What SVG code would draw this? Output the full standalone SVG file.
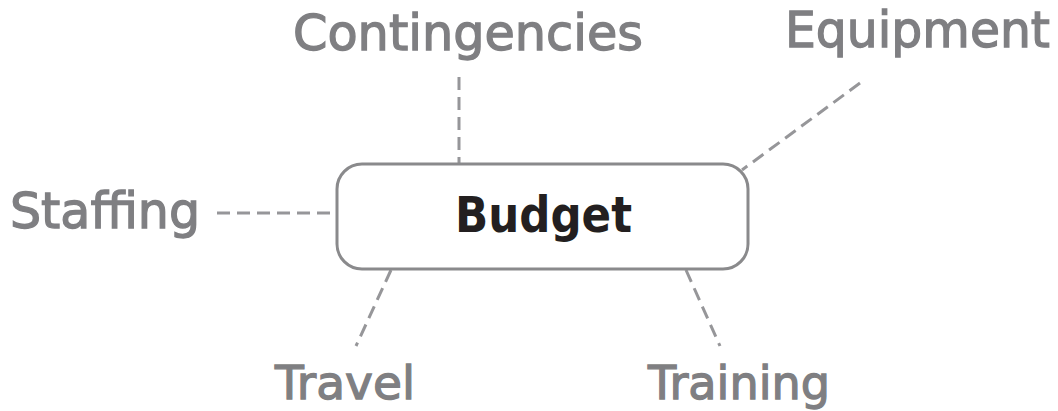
<svg xmlns="http://www.w3.org/2000/svg" width="1058" height="411" viewBox="0 0 1058 411">
<style>
.lbl{font-family:"DejaVu Sans","Liberation Sans",sans-serif;font-size:49px;fill:#7f7f82;stroke:#7f7f82;stroke-width:1.3;}
.low{font-size:47px;}
.main{font-family:"DejaVu Sans","Liberation Sans",sans-serif;font-size:49px;font-weight:bold;fill:#231f20;}
.con{stroke:#969699;stroke-width:3;stroke-dasharray:13 7;fill:none;}
</style>
<rect width="1058" height="411" fill="#ffffff"/>
<g id="connectors">
<line class="con" x1="217" y1="213" x2="336" y2="213"/>
<line class="con" x1="459" y1="77" x2="459" y2="164"/>
<line class="con" x1="860" y1="83" x2="742" y2="170"/>
<line class="con" x1="391" y1="270" x2="356" y2="346"/>
<line class="con" x1="686" y1="270" x2="720" y2="346"/>
</g>
<g id="budget">
<rect x="337" y="164" width="411" height="105" rx="25" ry="25" fill="#ffffff" stroke="#8a8a8c" stroke-width="3"/>
<text class="main" x="455" y="232" textLength="177" lengthAdjust="spacingAndGlyphs">Budget</text>
</g>
<g id="staffing"><text class="lbl" x="10" y="228" textLength="190" lengthAdjust="spacingAndGlyphs">Staffing</text></g>
<g id="contingencies"><text class="lbl" x="293" y="50" textLength="350" lengthAdjust="spacingAndGlyphs">Contingencies</text></g>
<g id="equipment"><text class="lbl" x="785" y="47" textLength="265" lengthAdjust="spacingAndGlyphs">Equipment</text></g>
<g id="travel"><text class="lbl low" x="275" y="399" textLength="140" lengthAdjust="spacingAndGlyphs">Travel</text></g>
<g id="training"><text class="lbl low" x="648" y="399" textLength="182" lengthAdjust="spacingAndGlyphs">Training</text></g>
</svg>
